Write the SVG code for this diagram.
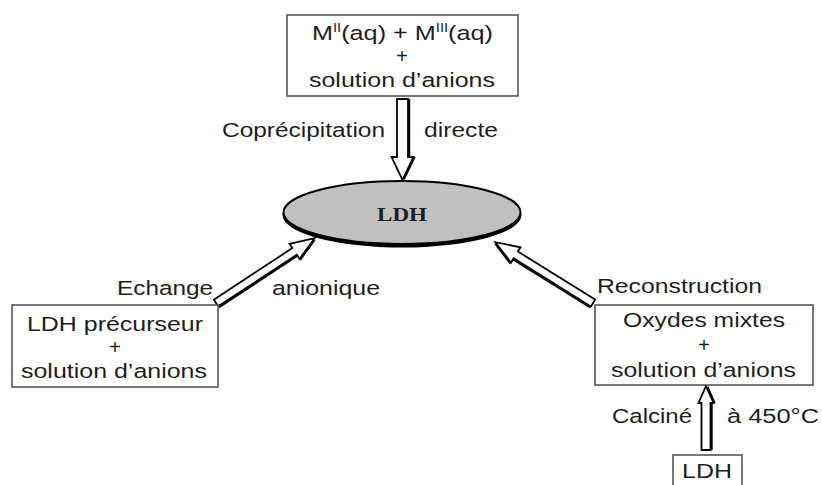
<svg xmlns="http://www.w3.org/2000/svg" width="822" height="485" viewBox="0 0 822 485">
<style>
.box{fill:#fff;stroke:#555;stroke-width:1.6}
.t{font-family:"Liberation Sans",Arial,sans-serif;font-size:20.5px;fill:#1e1e1e}
.c{text-anchor:middle}
.sh{fill:#000}
.ar{fill:#fff;stroke:#000;stroke-width:1.8;stroke-linejoin:miter}
</style>
<rect width="822" height="485" fill="#fff"/>
<g id="connectors">
  <g transform="translate(402.5,99) rotate(90)">
    <polygon class="sh" transform="translate(0,-2.2)" points="0,-5.5 58,-5.5 58,-11 81,0 58,11 58,5.5 0,5.5"/>
    <polygon class="ar" points="0,-5.5 58,-5.5 58,-11 81,0 58,11 58,5.5 0,5.5"/>
  </g>
  <g transform="translate(216,303) rotate(-33.3)">
    <polygon class="sh" transform="translate(0,2.2)" points="0,-4 94,-4 94,-9 118,0 94,9 94,4 0,4"/>
    <polygon class="ar" points="0,-4 94,-4 94,-9 118,0 94,9 94,4 0,4"/>
  </g>
  <g transform="translate(593,303) rotate(-148.1)">
    <polygon class="sh" transform="translate(0,-2.2)" points="0,-4 91,-4 91,-9 115,0 91,9 91,4 0,4"/>
    <polygon class="ar" points="0,-4 91,-4 91,-9 115,0 91,9 91,4 0,4"/>
  </g>
  <g transform="translate(706,450) rotate(-90)">
    <polygon class="sh" transform="translate(0,2.2)" points="0,-4.5 47,-4.5 47,-7.5 64,0 47,7.5 47,4.5 0,4.5"/>
    <polygon class="ar" points="0,-4.5 47,-4.5 47,-7.5 64,0 47,7.5 47,4.5 0,4.5"/>
  </g>
  <text class="t" x="222" y="137" textLength="163" lengthAdjust="spacingAndGlyphs">Coprécipitation</text>
  <text class="t" x="424" y="137" textLength="74" lengthAdjust="spacingAndGlyphs">directe</text>
  <text class="t" x="117" y="295" textLength="96" lengthAdjust="spacingAndGlyphs">Echange</text>
  <text class="t" x="272" y="295" textLength="108" lengthAdjust="spacingAndGlyphs">anionique</text>
  <text class="t" x="597" y="293" textLength="165" lengthAdjust="spacingAndGlyphs">Reconstruction</text>
  <text class="t" x="612" y="423" textLength="80" lengthAdjust="spacingAndGlyphs">Calciné</text>
  <text class="t" x="727" y="423" textLength="92" lengthAdjust="spacingAndGlyphs">à 450°C</text>
</g>
<g id="node-top">
  <rect class="box" x="287" y="15" width="231" height="81"/>
  <text class="t" x="312" y="40" textLength="181" lengthAdjust="spacingAndGlyphs">M<tspan font-size="12" dy="-8">II</tspan><tspan dy="8">(aq) + M</tspan><tspan font-size="12" dy="-8">III</tspan><tspan dy="8">(aq)</tspan></text>
  <text class="t c" x="402" y="63">+</text>
  <text class="t" x="309" y="87" textLength="186" lengthAdjust="spacingAndGlyphs">solution d’anions</text>
</g>
<g id="node-ldh">
  <ellipse cx="402" cy="215" rx="119.5" ry="32.5" fill="#000"/>
  <ellipse cx="402" cy="212.5" rx="118.5" ry="31.5" fill="#c0c0c0" stroke="#000" stroke-width="2"/>
  <text x="377" y="221" font-family="'Liberation Serif','Times New Roman',serif" font-weight="bold" font-size="19" fill="#1e1e1e" textLength="50" lengthAdjust="spacingAndGlyphs">LDH</text>
</g>
<g id="node-left">
  <rect class="box" x="12" y="305" width="206" height="82"/>
  <text class="t" x="27" y="331" textLength="176" lengthAdjust="spacingAndGlyphs">LDH précurseur</text>
  <text class="t c" x="115" y="354">+</text>
  <text class="t" x="21" y="378" textLength="186" lengthAdjust="spacingAndGlyphs">solution d’anions</text>
</g>
<g id="node-right">
  <rect class="box" x="595" y="305" width="218" height="80"/>
  <text class="t" x="623" y="327" textLength="162" lengthAdjust="spacingAndGlyphs">Oxydes mixtes</text>
  <text class="t c" x="704" y="352">+</text>
  <text class="t" x="611" y="377" textLength="185" lengthAdjust="spacingAndGlyphs">solution d’anions</text>
</g>
<g id="node-bottom">
  <rect class="box" x="673" y="455" width="69" height="40"/>
  <text class="t" x="682" y="478" textLength="50" lengthAdjust="spacingAndGlyphs">LDH</text>
</g>
</svg>
